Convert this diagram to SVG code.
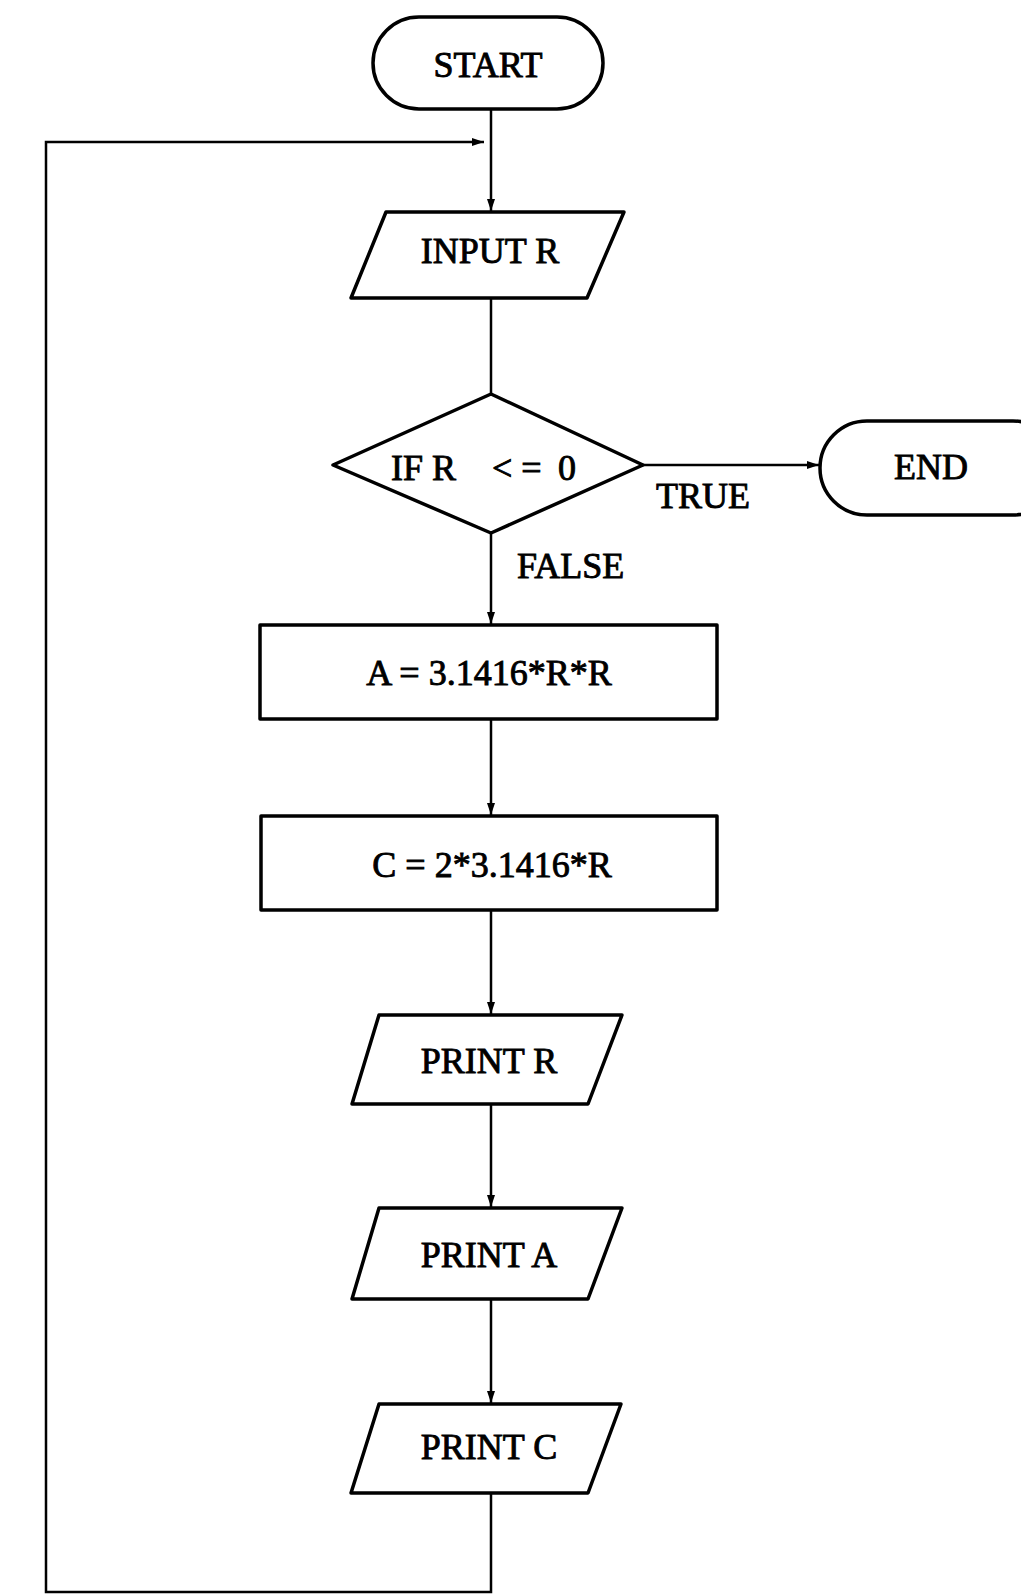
<svg xmlns="http://www.w3.org/2000/svg" width="1021" height="1595" viewBox="0 0 1021 1595">
<style>
.s{fill:#fff;stroke:#000;stroke-width:3.5;stroke-linejoin:round}
.c{fill:none;stroke:#000;stroke-width:2.5}
.t{font-family:"Liberation Serif","Times New Roman",serif;font-size:36px;fill:#000;stroke:#000;stroke-width:0.9}
.m{text-anchor:middle}
</style>
<defs>
<marker id="ah" viewBox="0 0 12 10" refX="12" refY="5" markerWidth="12" markerHeight="10" markerUnits="userSpaceOnUse" orient="auto">
<path d="M0,1 L12,5 L0,9 z" fill="#000"/>
</marker>
</defs>
<rect width="1021" height="1595" fill="#fff"/>
<g id="connectors">
<line class="c" x1="491" y1="109" x2="491" y2="211" marker-end="url(#ah)"/>
<line class="c" x1="491" y1="298" x2="491" y2="394"/>
<line class="c" x1="643" y1="465" x2="819" y2="465" marker-end="url(#ah)"/>
<line class="c" x1="491" y1="533" x2="491" y2="624" marker-end="url(#ah)"/>
<line class="c" x1="491" y1="719" x2="491" y2="815" marker-end="url(#ah)"/>
<line class="c" x1="491" y1="910" x2="491" y2="1014" marker-end="url(#ah)"/>
<line class="c" x1="491" y1="1104" x2="491" y2="1207" marker-end="url(#ah)"/>
<line class="c" x1="491" y1="1299" x2="491" y2="1403" marker-end="url(#ah)"/>
<polyline class="c" points="491,1493 491,1592 46,1592 46,142 484,142" marker-end="url(#ah)"/>
</g>
<g id="start">
<rect class="s" x="373" y="17" width="230" height="92" rx="46" ry="46"/>
<text class="t m" x="488" y="77">START</text>
</g>
<g id="input">
<polygon class="s" points="386,212 624,212 587,298 351,298"/>
<text class="t m" x="490" y="263">INPUT R</text>
</g>
<g id="decision">
<polygon class="s" points="491,394 643,465 491,533 333,465"/>
<text class="t"><tspan x="391" y="480">IF R  </tspan><tspan x="492" y="480">&lt; = </tspan><tspan x="558" y="480">0</tspan></text>
</g>
<g id="end">
<rect class="s" x="820" y="421" width="240" height="94" rx="47" ry="47"/>
<text class="t m" x="931" y="479">END</text>
</g>
<g id="labels">
<text class="t" x="656" y="508">TRUE</text>
<text class="t" x="517" y="578">FALSE</text>
</g>
<g id="area">
<rect class="s" x="260" y="625" width="457" height="94"/>
<text class="t m" x="489" y="685">A = 3.1416*R*R</text>
</g>
<g id="circ">
<rect class="s" x="261" y="816" width="456" height="94"/>
<text class="t m" x="492" y="877">C = 2*3.1416*R</text>
</g>
<g id="printR">
<polygon class="s" points="379,1015 622,1015 588,1104 352,1104"/>
<text class="t m" x="489" y="1073">PRINT R</text>
</g>
<g id="printA">
<polygon class="s" points="379,1208 622,1208 588,1299 352,1299"/>
<text class="t m" x="489" y="1267">PRINT A</text>
</g>
<g id="printC">
<polygon class="s" points="379,1404 621,1404 588,1493 351,1493"/>
<text class="t m" x="489" y="1459">PRINT C</text>
</g>
</svg>
